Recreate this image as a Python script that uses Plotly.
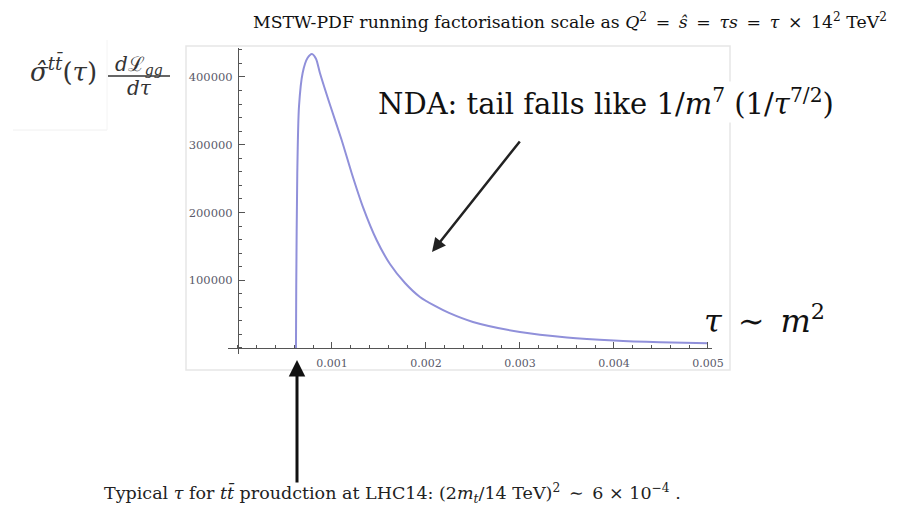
import plotly.graph_objects as go

# ---- data ----
tau = [0.000617, 0.000620, 0.000631, 0.000649, 0.000688, 0.000740, 0.000787,
       0.000830, 0.000872, 0.000986, 0.001103, 0.001210, 0.001330, 0.001476,
       0.001617, 0.001777, 0.001936, 0.002096, 0.002245, 0.002500, 0.003000,
       0.003500, 0.004000, 0.004490, 0.005000]
sigma_lumi = [0, 90000, 258000, 356000, 406000, 428000, 434000,
              427000, 406000, 356000, 307000, 258000, 208000, 159000,
              124000, 95900, 75300, 62000, 51700, 38400, 23600,
              15500, 11000, 8400, 6800]
x_tick_vals = [0.001, 0.002, 0.003, 0.004, 0.005]
x_tick_text = ["0.001", "0.002", "0.003", "0.004", "0.005"]
y_tick_vals = [100000, 200000, 300000, 400000]
y_tick_text = ["100000", "200000", "300000", "400000"]

# ---- geometry helpers (pixel -> paper) ----
W, H = 905, 514
L, R, T, B = 228, 712, 48, 354
def px(X):
    return (X - L) / (R - L)
def py(Y):
    return (B - Y) / (B - T)

x_range = [-0.000106, 0.005043]
y_range = [-8900, 442800]

fig = go.Figure()
fig.add_trace(go.Scatter(
    x=tau, y=sigma_lumi, mode="lines",
    line=dict(color="#9090da", width=2, shape="spline", smoothing=0.7),
    hoverinfo="skip", showlegend=False))

serif = "DejaVu Serif"
EN = "\u2002"

fig.update_layout(
    width=W, height=H,
    margin=dict(l=L, r=W - R, t=T, b=H - B),
    paper_bgcolor="white", plot_bgcolor="white",
    xaxis=dict(range=x_range, anchor="free", position=py(348),
               showline=True, linecolor="#555", linewidth=1.2,
               showgrid=False, zeroline=False,
               tickvals=x_tick_vals, ticktext=x_tick_text,
               ticks="inside", ticklen=6, tickcolor="#555", tickwidth=1,
               minor=dict(dtick=0.0002, tick0=0, ticks="inside", ticklen=3,
                          tickcolor="#555", showgrid=False),
               tickfont=dict(family=serif, size=11, color="#5a5a6a"),
               ticklabelstandoff=5),
    yaxis=dict(range=y_range, anchor="free", position=px(238),
               showline=True, linecolor="#555", linewidth=1.2,
               showgrid=False, zeroline=False,
               tickvals=y_tick_vals, ticktext=y_tick_text,
               ticks="inside", ticklen=6, tickcolor="#555", tickwidth=1,
               minor=dict(dtick=20000, tick0=0, ticks="inside", ticklen=3,
                          tickcolor="#555", showgrid=False),
               tickfont=dict(family=serif, size=11.5, color="#5a5a6a"),
               ticklabelstandoff=3),
)

shapes = []
# light frame around the plot image
shapes.append(dict(type="rect", xref="paper", yref="paper",
                   x0=px(186), x1=px(730), y0=py(370), y1=py(46),
                   line=dict(color="#e6e6e6", width=1.5), layer="below"))
# faint frame edges of the left label image
shapes.append(dict(type="line", xref="paper", yref="paper",
                   x0=px(13), x1=px(107), y0=py(130), y1=py(130),
                   line=dict(color="#f0f0f0", width=1)))
shapes.append(dict(type="line", xref="paper", yref="paper",
                   x0=px(107), x1=px(107), y0=py(40), y1=py(130),
                   line=dict(color="#f4f4f4", width=1)))
# fraction bar of the y label
shapes.append(dict(type="line", xref="paper", yref="paper",
                   x0=px(108), x1=px(170), y0=py(76), y1=py(76),
                   line=dict(color="#333", width=1.4)))
fig.update_layout(shapes=shapes)

ann = []
# title
ann.append(dict(xref="paper", yref="paper", x=px(889), y=py(21),
                xanchor="right", yanchor="middle", showarrow=False,
                text=("MSTW-PDF running factorisation scale as <i>Q</i><sup>2</sup>" + EN + "=" + EN +
                      "<i>ŝ</i>" + EN + "=" + EN + "<i>τs</i>" + EN + "=" + EN + "<i>τ</i>" + EN + "×" + EN +
                      "14<sup>2</sup> TeV<sup>2</sup>"),
                font=dict(family=serif, size=17.3, color="#111")))
# y label
ann.append(dict(xref="paper", yref="paper", x=px(99), y=py(69),
                xanchor="right", yanchor="middle", showarrow=False,
                text="<i>σ̂</i><sup><i>tt̄</i></sup>(<i>τ</i>)",
                font=dict(family=serif, size=26, color="#333")))
ann.append(dict(xref="paper", yref="paper", x=px(139), y=py(65),
                xanchor="center", yanchor="middle", showarrow=False,
                text="<i>d</i>ℒ<sub><i>gg</i></sub>",
                font=dict(family=serif, size=20, color="#333")))
ann.append(dict(xref="paper", yref="paper", x=px(139), y=py(88),
                xanchor="center", yanchor="middle", showarrow=False,
                text="<i>dτ</i>",
                font=dict(family=serif, size=20, color="#333")))
# NDA text
ann.append(dict(xref="paper", yref="paper", x=px(376), y=py(102),
                xanchor="left", yanchor="middle", showarrow=False,
                text="NDA: tail falls like 1/<i>m</i><sup>7</sup> (1/<i>τ</i><sup>7/2</sup>)",
                bgcolor="white",
                font=dict(family=serif, size=29, color="#111")))
# NDA arrow
ann.append(dict(xref="paper", yref="paper", x=px(432), y=py(252),
                ax=521 - 432, ay=140 - 252, axref="pixel", ayref="pixel",
                text="", showarrow=True, arrowhead=2, arrowsize=1.1,
                arrowwidth=2.5, arrowcolor="#222"))
# tau ~ m^2
ann.append(dict(xref="paper", yref="paper", x=px(702), y=py(319),
                xanchor="left", yanchor="middle", showarrow=False,
                text="<i>τ</i>" + EN + "∼" + EN + "<i>m</i><sup>2</sup>",
                font=dict(family=serif, size=32, color="#111")))
# bottom arrow
ann.append(dict(xref="paper", yref="paper", x=px(297), y=py(360),
                ax=0, ay=484 - 360, axref="pixel", ayref="pixel",
                text="", showarrow=True, arrowhead=2, arrowsize=1.1,
                arrowwidth=3, arrowcolor="#111"))
# bottom text
ann.append(dict(xref="paper", yref="paper", x=px(102), y=py(493),
                xanchor="left", yanchor="middle", showarrow=False,
                text=("Typical <i>τ</i> for <i>tt̄</i> proudction at LHC14: (2<i>m</i><sub><i>t</i></sub>/14 TeV)<sup>2</sup>"
                      + EN + "∼" + EN + "6 × 10<sup>−4</sup> ."),
                font=dict(family=serif, size=17.5, color="#222")))
fig.update_layout(annotations=ann)

fig.write_html("out.html")
